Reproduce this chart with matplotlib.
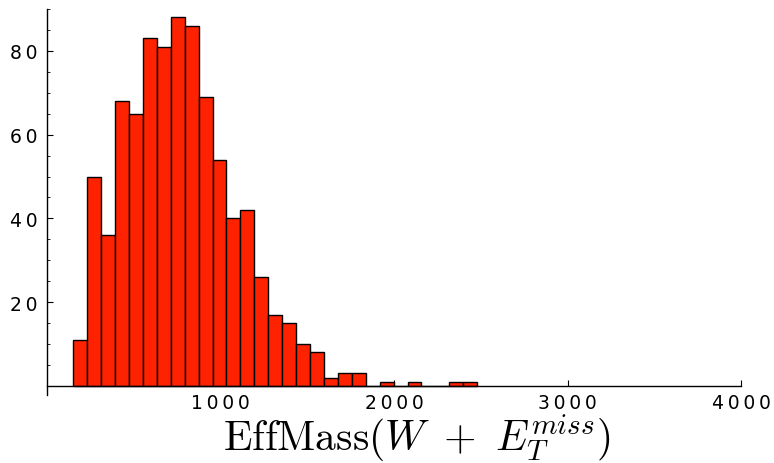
import numpy as np
import matplotlib
matplotlib.use('Agg')
import matplotlib.pyplot as plt
from matplotlib.ticker import FixedLocator, FuncFormatter

# === Data ===
bin_start = 151
bin_width = 80.3
counts = [11, 50, 36, 68, 65, 83, 81, 88, 86, 69, 54, 40, 42, 26, 17,
          15, 10, 8, 2, 3, 3, 0, 1, 0, 1, 0, 0, 1, 1]
x_ticks = [1000, 2000, 3000, 4000]
y_ticks = [20, 40, 60, 80]
y_minor = [5, 10, 15, 25, 30, 35, 45, 50, 55, 65, 70, 75, 85, 90]

bin_lefts = bin_start + bin_width * np.arange(len(counts))

plt.rcParams['mathtext.fontset'] = 'cm'

fig = plt.figure(figsize=(7.74, 4.64), dpi=100)
ax = fig.add_axes([47 / 774, 1 - 396.2 / 464, 694 / 774, (396.2 - 10) / 464])

ax.bar(bin_lefts, counts, width=bin_width, align='edge',
       color='#ff2200', edgecolor='black', linewidth=1.0, zorder=3)

ax.set_xlim(0, 4000)
ax.set_ylim(-2.2, 90)

# Mathematica-style axes crossing at the origin
ax.spines['top'].set_visible(False)
ax.spines['right'].set_visible(False)
ax.spines['bottom'].set_position(('data', 0))
ax.spines['bottom'].set_zorder(4)
for s in ('left', 'bottom'):
    ax.spines[s].set_linewidth(1.0)

spaced = FuncFormatter(lambda v, p: '\u2009'.join(str(int(v))))
ax.xaxis.set_major_locator(FixedLocator(x_ticks))
ax.yaxis.set_major_locator(FixedLocator(y_ticks))
ax.yaxis.set_minor_locator(FixedLocator(y_minor))
ax.xaxis.set_major_formatter(spaced)
ax.yaxis.set_major_formatter(spaced)

ax.tick_params(axis='both', which='major', direction='in', length=4,
               width=0.8, labelsize=13.5, pad=7)
ax.tick_params(axis='y', which='minor', direction='in', length=2.5, width=0.6)
ax.tick_params(axis='x', pad=5)

fig.text(417 / 774, 1 - 438 / 464, r'$\mathrm{EffMass}(W\ +\ E_T^{miss})$',
         ha='center', va='center', fontsize=30)

fig.savefig('out.png', dpi=100)
